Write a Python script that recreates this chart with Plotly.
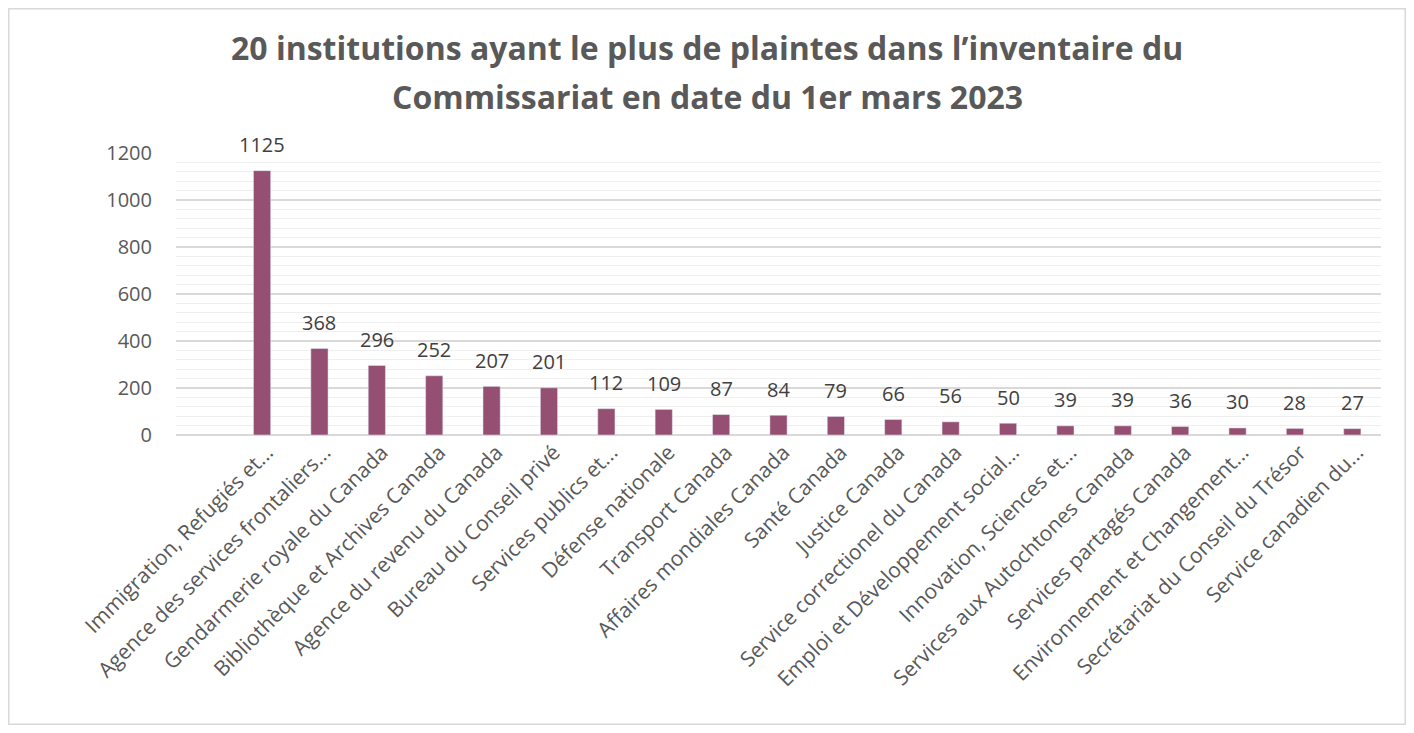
import plotly.graph_objects as go

categories = [
    "Immigration, Refugiés et...",
    "Agence des services frontaliers...",
    "Gendarmerie royale du Canada",
    "Bibliothèque et Archives Canada",
    "Agence du revenu du Canada",
    "Bureau du Conseil privé",
    "Services publics et...",
    "Défense nationale",
    "Transport Canada",
    "Affaires mondiales Canada",
    "Santé Canada",
    "Justice Canada",
    "Service correctionel du Canada",
    "Emploi et Développement social...",
    "Innovation, Sciences et...",
    "Services aux Autochtones Canada",
    "Services partagés Canada",
    "Environnement et Changement...",
    "Secrétariat du Conseil du Trésor",
    "Service canadien du...",
]
values = [1125, 368, 296, 252, 207, 201, 112, 109, 87, 84, 79, 66, 56, 50, 39, 39, 36, 30, 28, 27]
y_ticks = [0, 200, 400, 600, 800, 1000, 1200]
title_lines = [
    "20 institutions ayant le plus de plaintes dans l’inventaire du",
    "Commissariat en date du 1er mars 2023",
]

# page body has 8px margin; size the figure to fit inside it
OFF = 8
W, H = 1414 - 2 * OFF, 733 - 2 * OFF
ml, mr, mt, mb = 176 - OFF, 1414 - 1381 - OFF, 153 - OFF, 733 - 435 - OFF
pw = W - ml - mr
ph = H - mt - mb

x_idx = list(range(len(categories)))

fig = go.Figure(go.Bar(
    x=x_idx,
    y=values,
    marker_color="#954F72",
    width=0.3,
    hoverinfo="x+y",
))

for i, v in zip(x_idx, values):
    fig.add_annotation(
        x=i, y=v, xref="x", yref="y",
        text=str(v), showarrow=False,
        yanchor="middle", xanchor="center", yshift=26,
        font=dict(size=20, color="#404040", family="Open Sans, sans-serif"),
    )

def py(yfig):
    return (H - mb - yfig) / ph

for line, yc in zip(title_lines, [48 - OFF, 97 - OFF]):
    fig.add_annotation(
        x=0.5, xref="paper", xanchor="center",
        y=py(yc), yref="paper", yanchor="middle",
        xshift=(707 - OFF) - (ml + pw / 2),
        text="<b>" + line + "</b>", showarrow=False,
        font=dict(size=32, color="#595959", family="Open Sans, sans-serif"),
    )

fig.update_layout(
    width=W, height=H,
    margin=dict(l=ml, r=mr, t=mt, b=mb, pad=0),
    paper_bgcolor="white", plot_bgcolor="white",
    font=dict(family="Open Sans, Noto Sans, sans-serif", color="#595959"),
    showlegend=False,
)
fig.update_xaxes(
    tickmode="array",
    tickvals=x_idx,
    ticktext=categories,
    tickangle=-45,
    range=[-1.5, len(categories) - 0.5],
    tickfont=dict(size=21, color="#595959"),
    showgrid=False, zeroline=False, showline=False,
    ticks="", ticklabelshift=5,
)
fig.update_yaxes(
    range=[0, 1200],
    tickmode="array", tickvals=y_ticks,
    tickfont=dict(size=20, color="#595959"),
    showgrid=True, gridcolor="#D9D9D9", gridwidth=1.5,
    minor=dict(dtick=40, showgrid=True, gridcolor="#EFEFEF", gridwidth=1),
    zeroline=True, zerolinecolor="#D9D9D9", zerolinewidth=2,
    ticks="", ticklabelstandoff=23,
)
# chart border
fig.add_shape(
    type="rect", xref="paper", yref="paper",
    x0=(0.75 - ml) / pw, x1=(W - 0.75 - ml) / pw,
    y0=(0.75 - mb) / ph, y1=(H - 0.75 - mb) / ph,
    line=dict(color="#D9D9D9", width=1.5), fillcolor="rgba(0,0,0,0)", layer="below",
)

fig.write_html("out.html")
